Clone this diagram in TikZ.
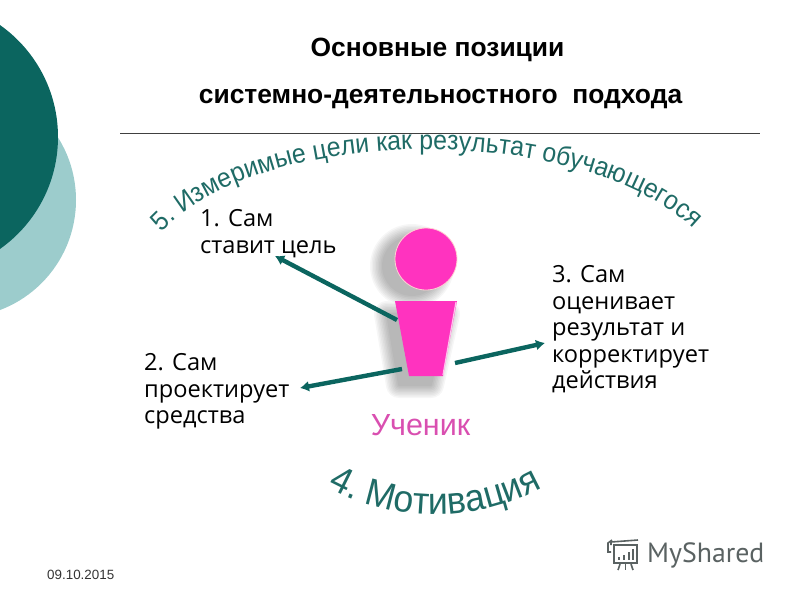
\documentclass[tikz,border=0pt]{standalone}
\usepackage{fontspec}
\setmainfont{Liberation Sans}
\newfontfamily\labelfont{Open Sans}
\newfontfamily\logofont{PT Sans}
\newfontfamily\curvefont[FakeStretch=0.92]{Liberation Sans}
\newfontfamily\curvefontb[FakeStretch=0.94]{Liberation Sans}
\usetikzlibrary{decorations.text,arrows.meta}
\definecolor{darkteal}{HTML}{0B655F}
\definecolor{lightteal}{HTML}{9CCCCC}
\definecolor{curvecol}{HTML}{1F6B66}
\definecolor{pinkfig}{HTML}{FF33BF}
\definecolor{pinktext}{HTML}{D94FB0}
\definecolor{logocol}{HTML}{5A6262}
\newcommand{\fs}[1]{\fontsize{#1}{#1}\selectfont}
\tikzset{
  arrowline/.style={draw=darkteal,line width=4.4pt,-{Latex[length=9pt,width=11pt]}},
  lbl/.style={anchor=north west,inner sep=0pt,align=left,text=black,font=\labelfont\fontsize{23.6}{26.5}\selectfont},
  titletext/.style={inner sep=0pt,font=\bfseries\fs{26.4}},
  logoline/.style={draw=logocol,line width=1.6pt}
}
\begin{document}
\begin{tikzpicture}[x=1pt,y=-1pt]
\useasboundingbox (0,0) rectangle (800,600);
\begin{scope}
\clip (0,0) rectangle (800,600);
\fill[lightteal] (-41.6,200) circle (117.6);
\fill[darkteal] (-79,137) circle (137);
\end{scope}

\node[titletext] (t1) at (437.5,50) {Основные позиции};
\node[titletext] (t2) at (440.5,99) {системно-деятельностного\ \ подхода};
\draw[draw=black!75,line width=0.8pt] (120,133) -- (760,133);

% curved texts
\path[decorate,decoration={text along path,text align=center,
  text={|\curvefont\color{curvecol}\fs{27}|5. Измеримые цели как результат обучающегося}}]
  (155,240) .. controls (250,120) and (595,120) .. (700,236);
\path[decorate,decoration={text along path,text align=center,
  text={|\curvefontb\color{curvecol}\fs{38}|4. Мотивация}}]
  (322,484) .. controls (390,525) and (480,525) .. (548,484);

% soft shadow of the figure
\foreach \w in {26,23,20,17,14,11,8,5,2}{
  \begin{scope}[transparency group,opacity=0.035]
  \fill[black] (412,266) circle ({29+\w/2});
  \path[fill=black,draw=black,line width=\w pt,line join=round]
    (387,314) -- (447,314) -- (431,385) -- (399,385) -- cycle;
  \end{scope}
}
% figure
\node[circle,fill=pinkfig,draw=pink!70,line width=0.8pt,minimum size=62pt,inner sep=0pt] (head) at (426,259) {};
\fill[pinkfig] (395,301) -- (457,301) -- (443,376) -- (409,376) -- cycle;
\draw[white!70!pinkfig,line width=1.2pt] (456,302) -- (443,375);

\node[font=\fs{30.5},text=pinktext,inner sep=0pt] (pupil) at (420.5,425) {Ученик};

\node[lbl] (l1) at (200,209.5) {1. Сам\\ставит цель};
\node[lbl] (l2) at (144,353.5) {2. Сам\\проектирует\\средства};
\node[lbl] (l3) at (552,265.5) {3. Сам\\оценивает\\результат и\\корректирует\\действия};

\coordinate (a1s) at (397,320);
\coordinate (a2s) at (402,369);
\coordinate (a3s) at (455,363);
\coordinate (a1e) at (275,256);
\coordinate (a2e) at (300,388);
\coordinate (a3e) at (545,343);
\draw[arrowline] (a1s) -- (a1e);
\draw[arrowline] (a2s) -- (a2e);
\draw[arrowline] (a3s) -- (a3e);

\node[anchor=west,inner sep=0pt,font=\fs{13.4},text=black!80] (date) at (47,575) {09.10.2015};

% logo
\node[anchor=west,inner sep=0pt,font=\logofont\fs{27.8},text=logocol] (logo) at (647,555) {MyShared};
\draw[logoline] (611,545) -- (611,542) -- (638,540);
\draw[logoline] (611,552) -- (608,552) -- (608,543) -- (612,540);
\draw[logoline] (614,545) rectangle (637,563);
\fill[logocol] (618,557) rectangle (620,560);
\fill[logocol] (623,555) rectangle (625,560);
\fill[logocol] (628,552) rectangle (630,560);
\fill[logocol] (632,549) rectangle (634,560);
\draw[logoline] (620,564) -- (618,570);
\draw[logoline] (625.5,564) -- (625.5,570);
\draw[logoline] (631,564) -- (633,570);
\end{tikzpicture}
\end{document}
